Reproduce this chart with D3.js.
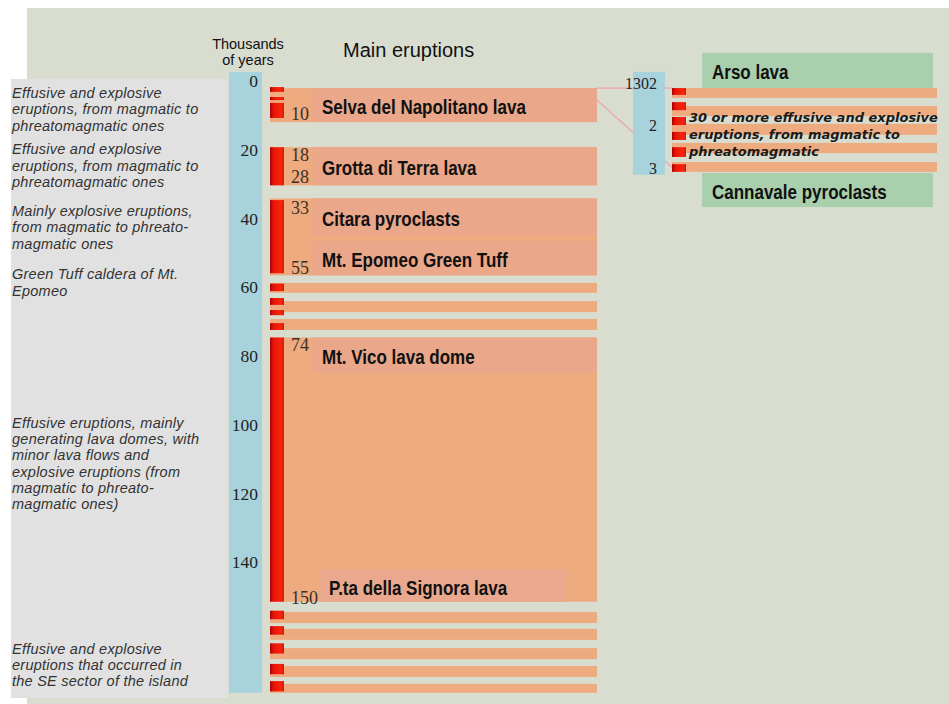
<!DOCTYPE html>
<html>
<head>
<meta charset="utf-8">
<script src="https://cdn.jsdelivr.net/npm/d3@7"></script>
<style>
  html, body { margin: 0; padding: 0; background: #ffffff; }
  svg { display: block; }
</style>
</head>
<body>
<div id="chart"></div>
<script>
// Main time axis (thousands of years)
const tickValues = [0, 20, 40, 60, 80, 100, 120, 140];
const columnSpan = [-3.8, 176.9];

// Orange eruption bands [start, end] in ky
const bands = [
    [0.9, 10.8], [18.1, 29.2], [33.0, 55.4],
    [57.6, 60.5], [62.9, 66.1], [68.1, 71.3],
    [73.5, 150.4],
    [153.4, 156.6], [158.3, 161.5], [163.9, 167.1], [169.1, 172.3], [174.3, 176.9]
];

// Red activity strip pieces in ky
const redPieces = [
    [0.6, 2.0], [3.5, 4.4], [5.2, 9.6], [18.1, 29.2], [33.5, 54.8],
    [57.8, 60.0], [62.0, 64.0], [65.5, 67.0], [69.3, 71.3], [73.5, 150.4],
    [153.0, 155.5], [157.5, 160.0], [162.5, 165.5], [168.5, 171.5], [173.5, 176.5]
];

// Main eruption names and their spans
const eruptionNames = [
    "Selva del Napolitano lava", "Grotta di Terra  lava", "Citara pyroclasts",
    "Mt. Epomeo Green Tuff", "Mt. Vico lava dome", "P.ta della Signora lava"
];
const eruptionSpans = [[0.9, 10.8], [18.1, 29.2], [33.0, 43.7], [45.5, 55.4], [73.5, 83.7], [141.1, 150.4]];

// Age labels next to the red strip and where they sit on the axis
const ageLabels = ["10", "18", "28", "33", "55", "74", "150"];
const agePositions = [8.45, 20.4, 26.8, 35.9, 53.4, 75.8, 149.3];

// Left column descriptions
const descriptions = [
    ["Effusive and explosive", "eruptions, from magmatic to", "phreatomagmatic ones"],
    ["Effusive and explosive", "eruptions, from magmatic to", "phreatomagmatic ones"],
    ["Mainly explosive eruptions,", "from magmatic to phreato-", "magmatic ones"],
    ["Green Tuff caldera of Mt.", "Epomeo"],
    ["Effusive eruptions, mainly", "generating lava domes, with", "minor lava flows and", "explosive eruptions (from", "magmatic to phreato-", "magmatic ones)"],
    ["Effusive and explosive", "eruptions  that occurred in", "the SE sector of the island"]
];
const descriptionPositions = [2.3, 18.7, 36.7, 55.1, 98.3, 164.1];

// Inset (last 3 ky)
const insetTickValues = [1, 2, 3];
const insetTickLabels = ["1302", "2", "3"];
const insetColumnSpan = [0.74, 3.16];
const insetBands = [[1.12, 1.35], [1.54, 1.78], [1.96, 2.22], [2.41, 2.65], [2.86, 3.09]];
const insetRedPieces = [[1.12, 1.28], [1.45, 1.64], [1.80, 1.99], [2.15, 2.34], [2.51, 2.74], [2.91, 3.09]];
const insetNames = ["Arso lava", "Cannavale pyroclasts"];
const insetNameSpans = [[0.29, 1.12], [3.12, 3.92]];
const insetNote = ["30 or more effusive and explosive", "eruptions, from magmatic to", "phreatomagmatic"];

const width = 949, height = 704;

const svg = d3.select("#chart")
    .append("svg")
    .attr("width", width)
    .attr("height", height);

const defs = svg.append("defs");
const redGrad = defs.append("linearGradient").attr("id", "redStrip");
redGrad.append("stop").attr("offset", "0%").attr("stop-color", "#a80000");
redGrad.append("stop").attr("offset", "25%").attr("stop-color", "#e81408");
redGrad.append("stop").attr("offset", "75%").attr("stop-color", "#f6240e");
redGrad.append("stop").attr("offset", "100%").attr("stop-color", "#d81a08");

// Scales
const y = d3.scaleLinear().domain([0, 140]).range([85, 566]);
const yInset = d3.scaleLinear().domain([1, 3]).range([83, 168]);

// Background panel
svg.append("rect")
    .attr("x", 27).attr("y", 8)
    .attr("width", width - 27).attr("height", height - 8)
    .attr("fill", "#d8ddd0");

// Left description panel
svg.append("rect")
    .attr("x", 11).attr("y", 79)
    .attr("width", 217).attr("height", 619)
    .attr("fill", "#e1e1e1");

// Blue time column
svg.append("rect")
    .attr("x", 229).attr("y", y(columnSpan[0]))
    .attr("width", 33).attr("height", y(columnSpan[1]) - y(columnSpan[0]))
    .attr("fill", "#a9d3dc");

// Headers
const header = svg.append("g")
    .attr("font-family", "Liberation Sans, Arial, sans-serif")
    .attr("fill", "#111");
header.append("text").attr("x", 248).attr("y", 49).attr("text-anchor", "middle")
    .attr("font-size", "14.5px").text("Thousands");
header.append("text").attr("x", 248).attr("y", 65).attr("text-anchor", "middle")
    .attr("font-size", "14.5px").text("of years");
header.append("text").attr("x", 343).attr("y", 57)
    .attr("font-size", "20px").text("Main eruptions");

// Axis tick labels
const axis = d3.axisLeft(y).tickValues(tickValues).tickSize(0).tickPadding(0);
const axisG = svg.append("g")
    .attr("transform", "translate(258,0)")
    .call(axis);
axisG.select(".domain").remove();
axisG.selectAll("text")
    .attr("font-family", "Liberation Serif, Times New Roman, serif")
    .attr("font-size", "17.5px")
    .attr("fill", "#222")
    .attr("dy", "0.1em");

// Connector lines to inset
svg.append("line")
    .attr("x1", 597).attr("y1", y(0.9)).attr("x2", 672).attr("y2", y(0.9))
    .attr("stroke", "#eda2ae").attr("stroke-width", 1.3);
svg.append("line")
    .attr("x1", 597).attr("y1", y(4.4)).attr("x2", 672).attr("y2", yInset(2.98))
    .attr("stroke", "#eda2ae").attr("stroke-width", 1.3);

// Orange bands
svg.append("g").selectAll("rect")
    .data(bands)
    .join("rect")
    .attr("x", 270)
    .attr("y", d => y(d[0]))
    .attr("width", 597 - 270)
    .attr("height", d => y(d[1]) - y(d[0]))
    .attr("fill", "#eeab80");

// Red activity strip
svg.append("g").selectAll("rect")
    .data(redPieces)
    .join("rect")
    .attr("x", 270)
    .attr("y", d => y(d[0]))
    .attr("width", 14)
    .attr("height", d => y(d[1]) - y(d[0]))
    .attr("fill", "url(#redStrip)");

// Eruption name boxes
const names = svg.append("g");
eruptionNames.forEach((name, i) => {
    const span = eruptionSpans[i];
    const last = i === eruptionNames.length - 1;
    const x0 = last ? 320 : 313;
    const x1 = last ? 565 : 597;
    names.append("rect")
        .attr("x", x0)
        .attr("y", y(span[0]))
        .attr("width", x1 - x0)
        .attr("height", y(span[1]) - y(span[0]))
        .attr("fill", last ? "#eaa88e" : "#eaa78a");
    const cy = (y(span[0]) + y(span[1])) / 2 + 2;
    names.append("text")
        .attr("transform", `translate(${x0 + 9},${cy}) scale(0.85,1)`)
        .attr("dominant-baseline", "central")
        .attr("font-family", "Liberation Sans, Arial, sans-serif")
        .attr("font-weight", "bold")
        .attr("font-size", "20px")
        .attr("fill", "#111")
        .text(name);
});

// Age labels
svg.append("g").selectAll("text")
    .data(ageLabels)
    .join("text")
    .attr("x", 291)
    .attr("y", (d, i) => y(agePositions[i]))
    .attr("dominant-baseline", "central")
    .attr("font-family", "Liberation Serif, Times New Roman, serif")
    .attr("font-size", "18px")
    .attr("fill", "#3c3026")
    .text(d => d);

// Left descriptions: one text block per group
const desc = svg.append("g")
    .attr("font-family", "Liberation Sans, Arial, sans-serif")
    .attr("font-style", "italic")
    .attr("font-size", "14.5px")
    .attr("letter-spacing", "0.25px")
    .attr("fill", "#333");
descriptions.forEach((lines, i) => {
    const block = desc.append("text")
        .attr("x", 12)
        .attr("y", y(descriptionPositions[i]) + 5);
    block.selectAll("tspan")
        .data(lines)
        .join("tspan")
        .attr("x", 12)
        .attr("dy", (d, j) => j === 0 ? 0 : 16.3)
        .text(d => d);
});

// Inset: blue column
svg.append("rect")
    .attr("x", 633).attr("y", yInset(insetColumnSpan[0]))
    .attr("width", 32).attr("height", yInset(insetColumnSpan[1]) - yInset(insetColumnSpan[0]))
    .attr("fill", "#a9d3dc");

// Inset tick labels
svg.append("g").selectAll("text")
    .data(insetTickValues)
    .join("text")
    .attr("x", 657)
    .attr("y", d => yInset(d))
    .attr("text-anchor", "end")
    .attr("dominant-baseline", "central")
    .attr("font-family", "Liberation Serif, Times New Roman, serif")
    .attr("font-size", "16px")
    .attr("fill", "#222")
    .text((d, i) => insetTickLabels[i]);

// Inset green name boxes
insetNames.forEach((name, i) => {
    const span = insetNameSpans[i];
    svg.append("rect")
        .attr("x", 702).attr("y", yInset(span[0]))
        .attr("width", 231).attr("height", yInset(span[1]) - yInset(span[0]))
        .attr("fill", "#a9cfad");
    svg.append("text")
        .attr("transform", `translate(712,${(yInset(span[0]) + yInset(span[1])) / 2 + 2}) scale(0.85,1)`)
        .attr("dominant-baseline", "central")
        .attr("font-family", "Liberation Sans, Arial, sans-serif")
        .attr("font-weight", "bold")
        .attr("font-size", "20px")
        .attr("fill", "#111")
        .text(name);
});

// Inset bands
svg.append("g").selectAll("rect")
    .data(insetBands)
    .join("rect")
    .attr("x", 672)
    .attr("y", d => yInset(d[0]))
    .attr("width", 937 - 672)
    .attr("height", d => yInset(d[1]) - yInset(d[0]))
    .attr("fill", "#eeab80");

svg.append("g").selectAll("rect")
    .data(insetRedPieces)
    .join("rect")
    .attr("x", 672)
    .attr("y", d => yInset(d[0]))
    .attr("width", 14)
    .attr("height", d => yInset(d[1]) - yInset(d[0]))
    .attr("fill", "url(#redStrip)");

// Inset note: one text block
const note = svg.append("text")
    .attr("x", 689)
    .attr("y", 121.5)
    .attr("font-family", "DejaVu Sans, sans-serif")
    .attr("font-weight", "bold")
    .attr("font-style", "italic")
    .attr("font-size", "13px")
    .attr("fill", "#1a1a1a");
note.selectAll("tspan")
    .data(insetNote)
    .join("tspan")
    .attr("x", 689)
    .attr("dy", (d, i) => i === 0 ? 0 : 17)
    .text(d => d);
</script>
</body>
</html>
